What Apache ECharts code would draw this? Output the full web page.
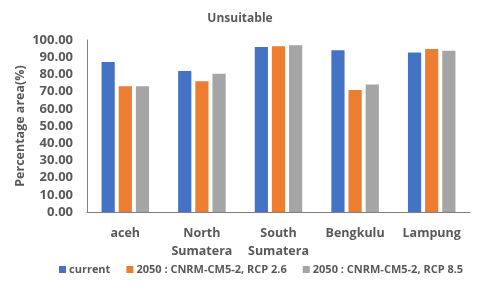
<!DOCTYPE html>
<html><head><meta charset="utf-8">
<script src="https://cdn.jsdelivr.net/npm/echarts@6/dist/echarts.min.js"></script>
<style>html,body{margin:0;padding:0;background:#fff}#c{width:480px;height:290px}</style>
</head><body><div id="c"></div>
<script>
var categories = ['aceh', 'North\nSumatera', 'South\nSumatera', 'Bengkulu', 'Lampung'];
var seriesNames = ['current', '2050 : CNRM-CM5-2, RCP 2.6', '2050 : CNRM-CM5-2, RCP 8.5'];
var current = [87.2, 82.0, 95.9, 94.0, 92.8];
var rcp26 = [73.1, 76.0, 96.3, 70.9, 94.8];
var rcp85 = [73.1, 80.4, 96.9, 74.2, 93.8];
var colors = ['#4472C4', '#ED7D31', '#A5A5A5'];
var font = 'Open Sans';
var chart = echarts.init(document.getElementById('c'));
var data = [current, rcp26, rcp85];
chart.setOption({
  animation: false,
  title: {text: 'Unsuitable', left: 'center', top: 8, textStyle: {fontFamily: font, fontSize: 12, fontWeight: 'bold', color: '#595959'}},
  legend: {top: 259, left: 54, itemWidth: 7, itemHeight: 7, itemGap: 16, icon: 'rect',
    textStyle: {fontFamily: font, fontSize: 11, fontWeight: 'bold', color: '#595959', padding: [0, 0, 0, -2]}},
  grid: {left: 87, right: 10, top: 40, bottom: 78},
  xAxis: {type: 'category', data: categories,
    axisLine: {lineStyle: {color: '#808080'}}, axisTick: {show: false},
    axisLabel: {interval: 0, fontFamily: font, fontSize: 12.5, fontWeight: 'bold', color: '#595959', margin: 12, lineHeight: 18}},
  yAxis: {type: 'value', min: 0, max: 100, interval: 10,
    name: 'Percentage area(%)', nameLocation: 'middle', nameGap: 60, nameRotate: 90, nameMoveOverlap: false,
    nameTextStyle: {fontFamily: font, fontSize: 12.5, fontWeight: 'bold', color: '#595959'},
    axisLine: {show: true, lineStyle: {color: '#808080'}}, axisTick: {show: false}, splitLine: {show: false},
    axisLabel: {fontFamily: font, fontSize: 13, fontWeight: 'bold', color: '#595959', margin: 14,
      formatter: function(v){return v.toFixed(2);}}},
  series: seriesNames.map(function(n, i){
    return {name: n, type: 'bar', data: data[i], barGap: '30%', barCategoryGap: '38%',
      itemStyle: {color: colors[i]}};
  })
});
</script></body></html>
